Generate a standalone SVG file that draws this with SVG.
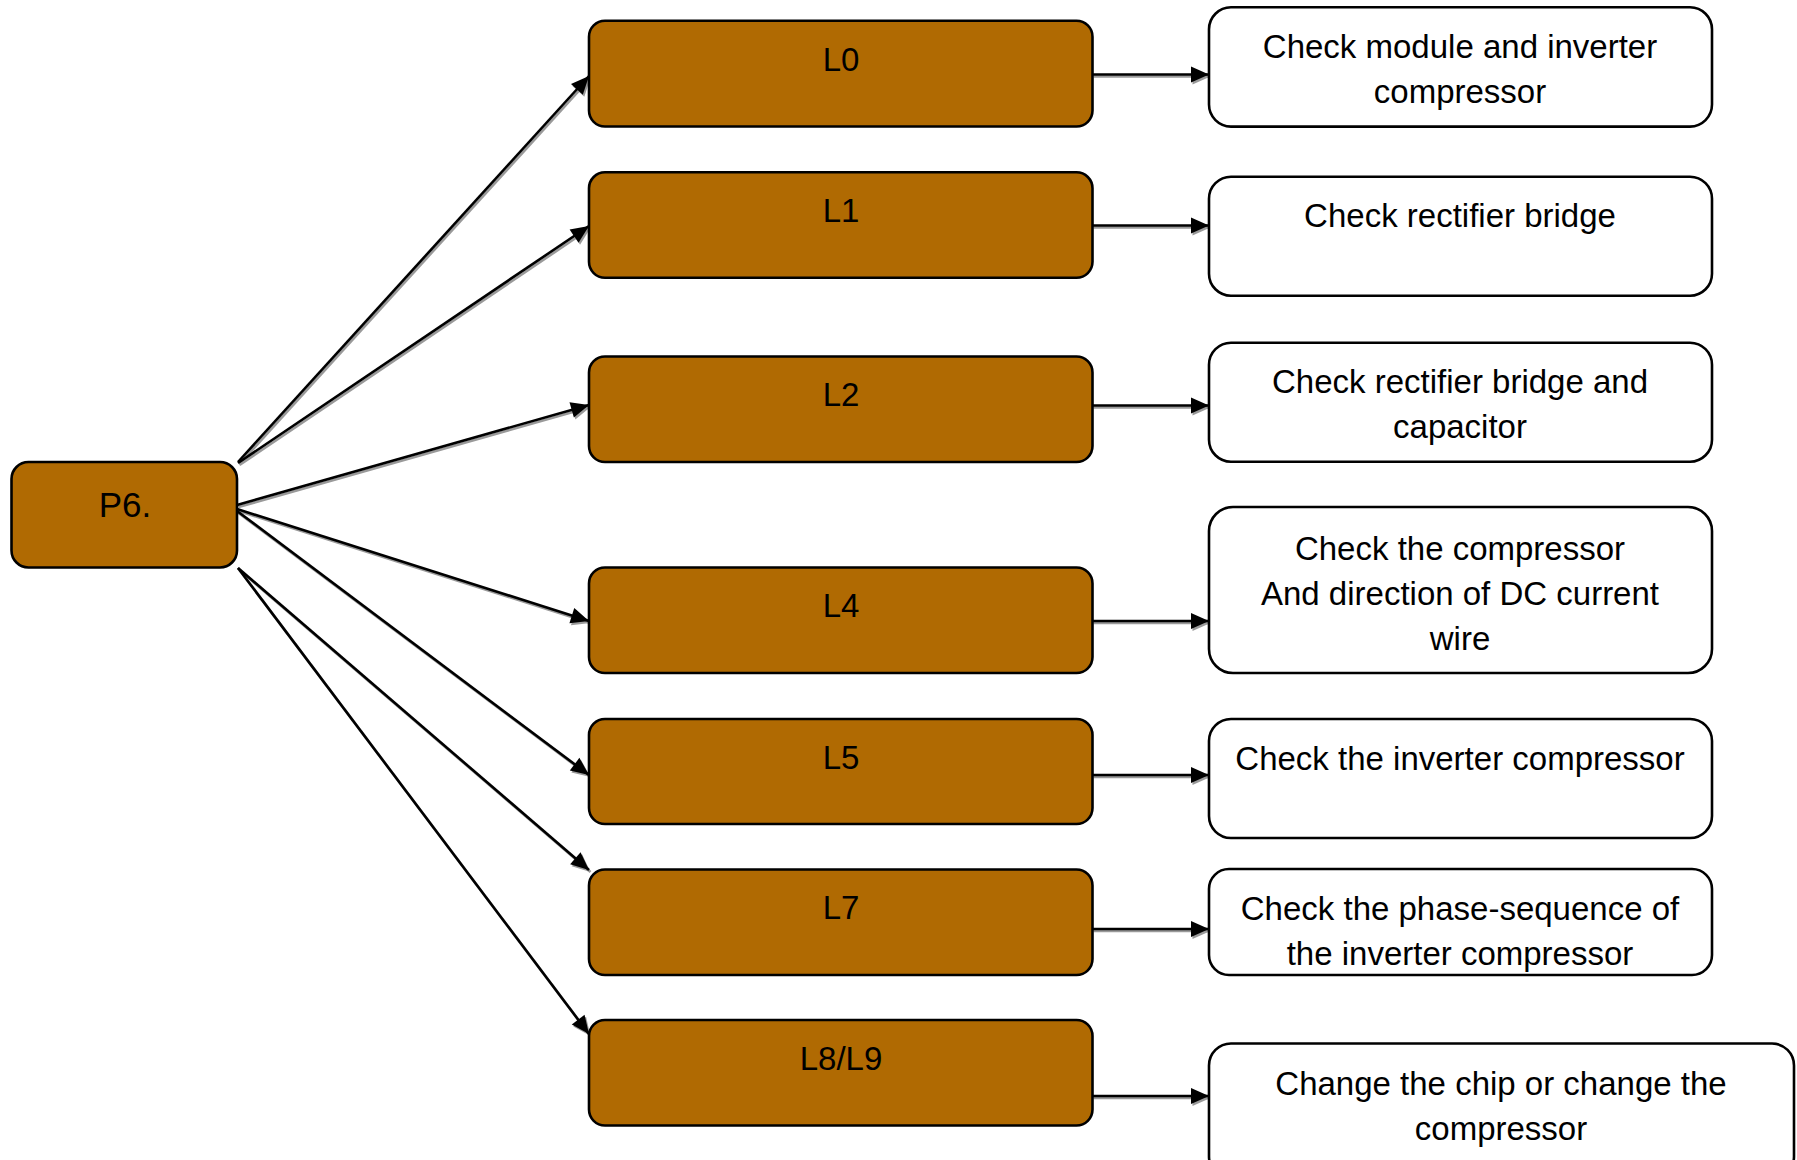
<svg xmlns="http://www.w3.org/2000/svg" width="1797" height="1160" viewBox="0 0 1797 1160">
<style>
.dark{fill:#B06A02;stroke:#000;stroke-width:2.6}
.light{fill:#fff;stroke:#000;stroke-width:2.6}
.t{font-family:"Liberation Sans",Arial,sans-serif;font-size:33px;fill:#000;text-anchor:middle}
.ln{stroke:#000;stroke-width:2.6;fill:none;marker-end:url(#ah)}
.sh{stroke:#9a9a9a;stroke-width:2.6;fill:none;marker-end:url(#ahs)}
</style>
<defs>
<marker id="ah" markerUnits="userSpaceOnUse" markerWidth="19" markerHeight="16" refX="18" refY="8" orient="auto" overflow="visible">
<path d="M0,0 L18,8 L0,16 z" fill="#000"/>
</marker>
<marker id="ahs" markerUnits="userSpaceOnUse" markerWidth="19" markerHeight="16" refX="18" refY="8" orient="auto" overflow="visible">
<path d="M0,0 L18,8 L0,16 z" fill="#9a9a9a"/>
</marker>
</defs>
<rect width="1797" height="1160" fill="#fff"/>
<g id="connectors">
<g transform="translate(1.5,2)">
<line class="sh" x1="238" y1="462" x2="589" y2="76"/>
<line class="sh" x1="238" y1="463" x2="589" y2="226"/>
<line class="sh" x1="237" y1="505" x2="589" y2="405"/>
<line class="sh" x1="237" y1="509" x2="589" y2="621"/>
<line class="sh" x1="237" y1="511" x2="589" y2="775"/>
<line class="sh" x1="238" y1="568" x2="589" y2="870"/>
<line class="sh" x1="238" y1="568" x2="589" y2="1034"/>
<line class="sh" x1="1092" y1="74.5" x2="1209" y2="74.5"/>
<line class="sh" x1="1092" y1="225.5" x2="1209" y2="225.5"/>
<line class="sh" x1="1092" y1="405.5" x2="1209" y2="405.5"/>
<line class="sh" x1="1092" y1="621" x2="1209" y2="621"/>
<line class="sh" x1="1092" y1="775" x2="1209" y2="775"/>
<line class="sh" x1="1092" y1="929" x2="1209" y2="929"/>
<line class="sh" x1="1092" y1="1096" x2="1209" y2="1096"/>
</g>
<line class="ln" x1="238" y1="462" x2="589" y2="76"/>
<line class="ln" x1="238" y1="463" x2="589" y2="226"/>
<line class="ln" x1="237" y1="505" x2="589" y2="405"/>
<line class="ln" x1="237" y1="509" x2="589" y2="621"/>
<line class="ln" x1="237" y1="511" x2="589" y2="775"/>
<line class="ln" x1="238" y1="568" x2="589" y2="870"/>
<line class="ln" x1="238" y1="568" x2="589" y2="1034"/>
<line class="ln" x1="1092" y1="74.5" x2="1209" y2="74.5"/>
<line class="ln" x1="1092" y1="225.5" x2="1209" y2="225.5"/>
<line class="ln" x1="1092" y1="405.5" x2="1209" y2="405.5"/>
<line class="ln" x1="1092" y1="621" x2="1209" y2="621"/>
<line class="ln" x1="1092" y1="775" x2="1209" y2="775"/>
<line class="ln" x1="1092" y1="929" x2="1209" y2="929"/>
<line class="ln" x1="1092" y1="1096" x2="1209" y2="1096"/>
</g>
<g id="p6"><rect class="dark" x="11.5" y="462" width="225.5" height="105.5" rx="17"/><text class="t" x="125" y="517" style="font-size:35px">P6.</text></g>
<g id="l0"><rect class="dark" x="589" y="20.7" width="503.5" height="105.8" rx="16"/><text class="t" x="841" y="70.6">L0</text></g>
<g id="l1"><rect class="dark" x="589" y="172.3" width="503.5" height="105.5" rx="16"/><text class="t" x="841" y="222">L1</text></g>
<g id="l2"><rect class="dark" x="589" y="356.5" width="503.5" height="105.5" rx="16"/><text class="t" x="841" y="406">L2</text></g>
<g id="l4"><rect class="dark" x="589" y="567.5" width="503.5" height="105.5" rx="16"/><text class="t" x="841" y="617">L4</text></g>
<g id="l5"><rect class="dark" x="589" y="719" width="503.5" height="105" rx="16"/><text class="t" x="841" y="769">L5</text></g>
<g id="l7"><rect class="dark" x="589" y="869.5" width="503.5" height="105.5" rx="16"/><text class="t" x="841" y="919">L7</text></g>
<g id="l8l9"><rect class="dark" x="589" y="1020" width="503.5" height="105.5" rx="16"/><text class="t" x="841" y="1070">L8/L9</text></g>
<g id="r0"><rect class="light" x="1209" y="7.3" width="503" height="119.3" rx="22"/><text class="t" x="1460" y="58">Check module and inverter</text><text class="t" x="1460" y="103">compressor</text></g>
<g id="r1"><rect class="light" x="1209" y="176.7" width="503" height="119" rx="22"/><text class="t" x="1460" y="227">Check rectifier bridge</text></g>
<g id="r2"><rect class="light" x="1209" y="342.7" width="503" height="119" rx="22"/><text class="t" x="1460" y="393">Check rectifier bridge and</text><text class="t" x="1460" y="438">capacitor</text></g>
<g id="r4"><rect class="light" x="1209" y="507" width="503" height="166" rx="24"/><text class="t" x="1460" y="560">Check the compressor</text><text class="t" x="1460" y="605">And direction of DC current</text><text class="t" x="1460" y="650">wire</text></g>
<g id="r5"><rect class="light" x="1209" y="719" width="503" height="119" rx="22"/><text class="t" x="1460" y="770">Check the inverter compressor</text></g>
<g id="r7"><rect class="light" x="1209" y="869" width="503" height="106" rx="20"/><text class="t" x="1460" y="920">Check the phase-sequence of</text><text class="t" x="1460" y="965">the inverter compressor</text></g>
<g id="r8"><rect class="light" x="1209" y="1043.5" width="585" height="135" rx="22"/><text class="t" x="1501" y="1095">Change the chip or change the</text><text class="t" x="1501" y="1140">compressor</text></g>
</svg>
